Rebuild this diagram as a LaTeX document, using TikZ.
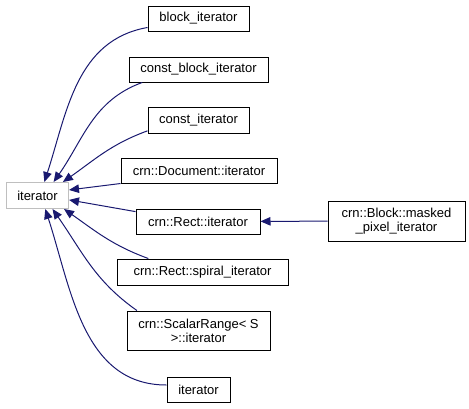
\documentclass[tikz,border=0pt]{standalone}
\usepackage{fontspec}
\setmainfont{Liberation Sans}
\usepackage{tikz}
\usetikzlibrary{calc}
\usetikzlibrary{arrows.meta}
\definecolor{edgeblue}{HTML}{191970}
\definecolor{basegray}{HTML}{BFBFBF}
\tikzset{cls/.style={draw=black, line width=1pt, fill=white, inner sep=0pt, minimum height=25pt, align=center, font=\fontsize{13}{14}\selectfont},
  base/.style={cls, draw=basegray},
  edge/.style={draw=edgeblue, line width=1pt, -{Triangle[length=10pt,width=8.5pt]}}}
\newcommand{\classbox}[5]{\node[cls, minimum width=#4, minimum height=#5] (#1) at (#2) {#3};}

\begin{document}
\begin{tikzpicture}[x=1pt, y=-1pt]
    \useasboundingbox (0,0) rectangle (469,408);
    %base class
    \node[base, minimum width=62, minimum height=26] (it) at (37.5,195.5) {iterator};
    %derived classes
    \classbox{blk}{198.5,18.5}{block\_iterator}{101}{25}
    \classbox{cblk}{198.5,69.5}{const\_block\_iterator}{139}{25}
    \classbox{cit}{198.5,120}{const\_iterator}{101}{26}
    \classbox{doc}{199,170.5}{crn::Document::iterator}{156}{25}
    \classbox{rect}{198,221.5}{crn::Rect::iterator}{124}{25}
    \classbox{sp}{202.5,272}{crn::Rect::spiral\_iterator}{171}{26}
    \classbox{sr}{198.5,330.5}{crn::ScalarRange< S\\>::iterator}{143}{39}
    \classbox{bit}{198.5,389.5}{iterator}{63}{25}
    \classbox{mpi}{396.5,221}{crn::Block::masked\\\_pixel\_iterator}{137}{40}
    %inheritance
    \foreach \src/\a/\o/\b/\i in {blk/190/190/63/72, cblk/193/200/40/55, cit/192/200/28/35,
        sr/162/145/-42/-55, bit/172/180/-60/-72, sp/166/160/-27/-35} {
        \draw[edge] (\src.\a) to[out=\o,in=\i] (it.\b);}
    \draw[edge] (doc.south west) -- (it.10);
    \draw[edge] (rect.171) -- (it.-8);
    \draw[edge] (mpi) -- (rect);
\end{tikzpicture}
\end{document}
